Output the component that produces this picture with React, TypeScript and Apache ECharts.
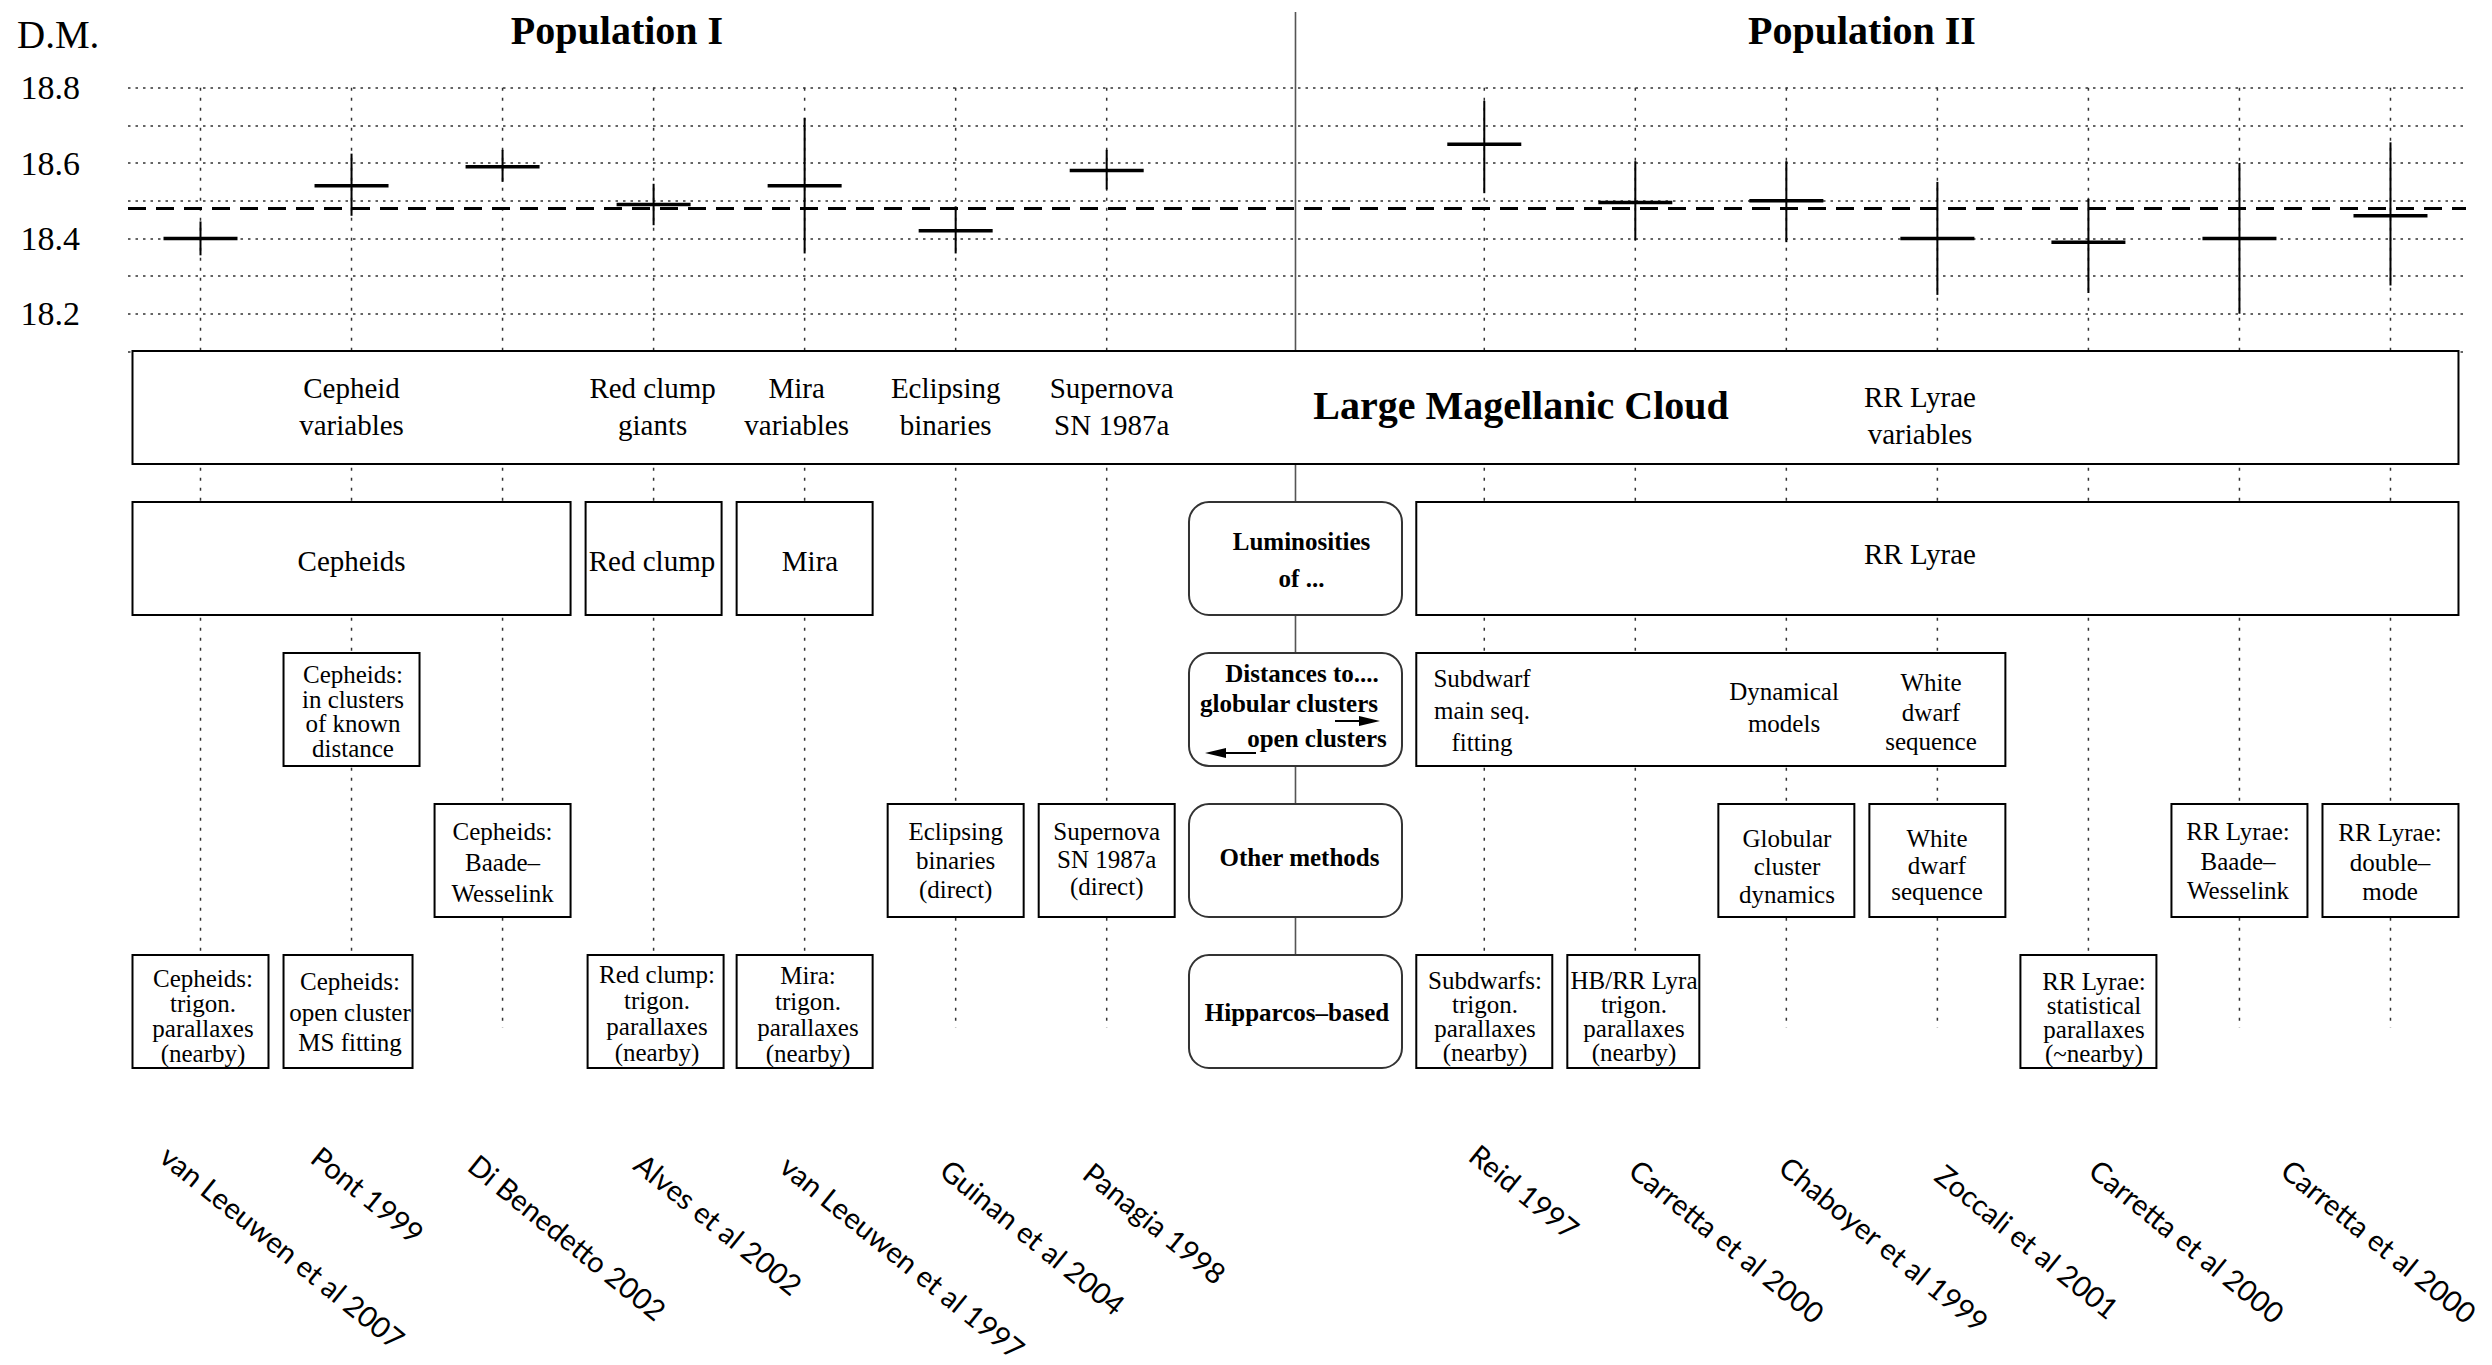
import React, { useEffect, useRef } from "react";
import * as echarts from "echarts";

// ---------------- DATA ----------------
const studies = [
  "van Leeuwen et al 2007", "Pont 1999", "Di Benedetto 2002", "Alves et al 2002",
  "van Leeuwen et al 1997", "Guinan et al 2004", "Panagia 1998",
  "Reid 1997", "Carretta et al 2000", "Chaboyer et al 1999", "Zoccali et al 2001",
  "Carretta et al 2000", "Carretta et al 2000",
];
// column index of every measurement (Population I: 0..6, Population II: 8.5..14.5)
const columnIndex = [0, 1, 2, 3, 4, 5, 6, 8.5, 9.5, 10.5, 11.5, 12.5, 13.5, 14.5];
const dmValues = [18.40, 18.54, 18.59, 18.49, 18.54, 18.42, 18.58, 18.65, 18.495, 18.50, 18.40, 18.39, 18.40, 18.46];
const dmLow = [18.355, 18.46, 18.55, 18.435, 18.36, 18.36, 18.53, 18.52, 18.395, 18.39, 18.25, 18.255, 18.20, 18.275];
const dmHigh = [18.445, 18.625, 18.635, 18.545, 18.72, 18.485, 18.635, 18.765, 18.605, 18.605, 18.55, 18.505, 18.60, 18.655];
const meanDM = 18.485;
const yMin = 18.1;
const yMax = 18.8;
const yStep = 0.1;

// ---------------- LAYOUT ----------------
const W = 2492;
const H = 1365;
const GRID_LEFT = 128;
const GRID_TOP = 87.7;
const GRID_W = 2338;
const GRID_H = 263.7;
const X_MIN = -0.48;
const X_MAX = 15;
const SEP = 7.25;
const ROW_TOP = [351, 502, 653, 804, 955];
const ROW_H = 113;
const HALF = 68;
const colX = (i: number) => GRID_LEFT + ((i - X_MIN) / (X_MAX - X_MIN)) * GRID_W;
// anchor (top-left before rotation) of each rotated reference label
const labelAnchors: [number, number][] = [
  [174, 1140], [325, 1141], [482, 1149], [648, 1148], [794, 1150], [954, 1154], [1097, 1157],
  [1483, 1139], [1643, 1154], [1793, 1151], [1949, 1159], [2103, 1154], [2295, 1154],
];

const SERIF = "Liberation Serif";

function rectBox(x1: number, x2: number, row: number) {
  return {
    type: "rect", z: 10,
    shape: { x: x1, y: ROW_TOP[row], width: x2 - x1, height: ROW_H },
    style: { fill: "#fff", stroke: "#000", lineWidth: 2 },
  };
}
function colBox(a: number, b: number, row: number, dl = 0, dr = 0) {
  return rectBox(colX(a) - HALF + dl, colX(b) + HALF + dr, row);
}
function roundBox(row: number) {
  const cx = colX(SEP);
  return {
    type: "rect", z: 10,
    shape: { x: cx - 106.5, y: ROW_TOP[row], width: 213, height: ROW_H, r: 20 },
    style: { fill: "#fff", stroke: "#333", lineWidth: 2 },
  };
}
function txt(text: string, x: number, y: number, size: number, lh: number, bold = false, align = "center") {
  return {
    type: "text", z: 12, x, y,
    style: {
      text, fill: "#000", fontFamily: SERIF, fontSize: size,
      fontWeight: bold ? "bold" : "normal", align, verticalAlign: "middle", lineHeight: lh,
    },
  };
}

function buildGraphic() {
  const g: any[] = [];
  // dotted column lines
  columnIndex.forEach((c) => {
    g.push({
      type: "line", z: 1,
      shape: { x1: colX(c), y1: GRID_TOP, x2: colX(c), y2: 1028 },
      style: { stroke: "#333", lineWidth: 1.5, lineDash: [3, 7] },
    });
  });
  // separator
  g.push({
    type: "line", z: 3,
    shape: { x1: colX(SEP), y1: 12, x2: colX(SEP), y2: 1011 },
    style: { stroke: "#555", lineWidth: 1.6 },
  });
  // titles
  g.push(txt("D.M.", 17, 34, 39, 40, false, "left"));
  g.push(txt("Population I", 617, 30, 40, 44, true));
  g.push(txt("Population II", 1862, 30, 40, 44, true));

  // Row 0: LMC
  g.push(colBox(0, 14.5, 0));
  g.push(txt("Cepheid\nvariables", colX(1), 406, 29, 37));
  g.push(txt("Red clump\ngiants", colX(3) - 1, 406, 29, 37));
  g.push(txt("Mira\nvariables", colX(4) - 8, 406, 29, 37));
  g.push(txt("Eclipsing\nbinaries", colX(5) - 10, 406, 29, 37));
  g.push(txt("Supernova\nSN 1987a", colX(6) + 5, 406, 29, 37));
  g.push(txt("Large Magellanic Cloud", 1521, 405, 40, 44, true));
  g.push(txt("RR Lyrae\nvariables", 1920, 415.5, 29, 37));

  // Row 1
  g.push(colBox(0, 2, 1));
  g.push(colBox(3, 3, 1));
  g.push(colBox(4, 4, 1));
  g.push(colBox(8.5, 14.5, 1));
  g.push(roundBox(1));
  g.push(txt("Cepheids", colX(1), 561, 29, 37));
  g.push(txt("Red clump", 652, 561, 29, 37));
  g.push(txt("Mira", 810, 561, 29, 37));
  g.push(txt("RR Lyrae", 1920, 554, 29, 37));
  g.push(txt("Luminosities\nof ...", 1301.5, 559.5, 25, 37, true));

  // Row 2
  g.push(colBox(1, 1, 2));
  g.push(roundBox(2));
  g.push(colBox(8.5, 11.5, 2));
  g.push(txt("Cepheids:\nin clusters\nof known\ndistance", 353, 711.5, 25, 24.5));
  g.push(txt("Distances to....", 1302, 673, 25, 30, true));
  g.push(txt("globular clusters", 1289, 703, 25, 30, true));
  g.push(txt("open clusters", 1317, 738, 25, 30, true));
  g.push({ type: "line", z: 12, shape: { x1: 1335, y1: 721, x2: 1362, y2: 721 }, style: { stroke: "#000", lineWidth: 2 } });
  g.push({ type: "polygon", z: 12, shape: { points: [[1359, 716], [1380, 721], [1359, 726]] }, style: { fill: "#000" } });
  g.push({ type: "line", z: 12, shape: { x1: 1256, y1: 753, x2: 1223, y2: 753 }, style: { stroke: "#000", lineWidth: 2 } });
  g.push({ type: "polygon", z: 12, shape: { points: [[1226, 748], [1205, 753], [1226, 758]] }, style: { fill: "#000" } });
  g.push(txt("Subdwarf\nmain seq.\nfitting", 1482, 710, 25, 32));
  g.push(txt("Dynamical\nmodels", 1784, 707, 25, 32));
  g.push(txt("White\ndwarf\nsequence", 1931, 712, 25, 29.5));

  // Row 3
  g.push(colBox(2, 2, 3));
  g.push(colBox(5, 5, 3));
  g.push(colBox(6, 6, 3));
  g.push(roundBox(3));
  g.push(colBox(10.5, 10.5, 3));
  g.push(colBox(11.5, 11.5, 3));
  g.push(colBox(13.5, 13.5, 3));
  g.push(colBox(14.5, 14.5, 3));
  g.push(txt("Cepheids:\nBaade\u2013\nWesselink", colX(2), 862, 25, 31));
  g.push(txt("Eclipsing\nbinaries\n(direct)", colX(5), 860, 25, 29));
  g.push(txt("Supernova\nSN 1987a\n(direct)", colX(6), 859, 25, 27.5));
  g.push(txt("Other methods", 1299.5, 857, 25, 30, true));
  g.push(txt("Globular\ncluster\ndynamics", 1787, 866, 25, 28));
  g.push(txt("White\ndwarf\nsequence", 1937, 865, 25, 26.5));
  g.push(txt("RR Lyrae:\nBaade\u2013\nWesselink", 2238, 861, 25, 29.5));
  g.push(txt("RR Lyrae:\ndouble\u2013\nmode", 2390, 862, 25, 29.5));

  // Row 4
  g.push(colBox(0, 0, 4));
  g.push(colBox(1, 1, 4, 0, -7));
  g.push(colBox(3, 3, 4, 2, 2));
  g.push(colBox(4, 4, 4));
  g.push(roundBox(4));
  g.push(colBox(8.5, 8.5, 4));
  g.push(colBox(9.5, 9.5, 4, 0, -4));
  g.push(colBox(12.5, 12.5, 4));
  g.push(txt("Cepheids:\ntrigon.\nparallaxes\n(nearby)", 203, 1015.5, 25, 25));
  g.push(txt("Cepheids:\nopen cluster\nMS fitting", 350, 1012, 25, 30.5));
  g.push(txt("Red clump:\ntrigon.\nparallaxes\n(nearby)", 657, 1013, 25, 26));
  g.push(txt("Mira:\ntrigon.\nparallaxes\n(nearby)", 808, 1014, 25, 26));
  g.push(txt("Hipparcos\u2013based", 1297, 1012, 25, 30, true));
  g.push(txt("Subdwarfs:\ntrigon.\nparallaxes\n(nearby)", 1485, 1016, 25, 24));
  g.push(txt("HB/RR Lyra\ntrigon.\nparallaxes\n(nearby)", 1634, 1016, 25, 24));
  g.push(txt("RR Lyrae:\nstatistical\nparallaxes\n(~nearby)", 2094, 1017, 25, 24));

  // rotated reference labels
  studies.forEach((s, i) => {
    const [ax, ay] = labelAnchors[i];
    g.push({
      type: "text", z: 12, x: ax, y: ay, rotation: (-39 * Math.PI) / 180,
      style: { text: s, fill: "#000", fontFamily: "Lato", fontSize: 29, align: "left", verticalAlign: "top" },
    });
  });
  return g;
}

export default function App() {
  const ref = useRef<HTMLDivElement>(null);
  useEffect(() => {
    if (!ref.current) return;
    const chart = echarts.init(ref.current, undefined, { renderer: "svg" });
    const data = columnIndex.map((x, i) => [x, dmValues[i], dmLow[i], dmHigh[i]]);
    chart.setOption({
      animation: false,
      backgroundColor: "#fff",
      grid: { left: GRID_LEFT, top: GRID_TOP, width: GRID_W, height: GRID_H, containLabel: false },
      xAxis: {
        type: "value", min: X_MIN, max: X_MAX,
        axisLine: { show: false }, axisTick: { show: false }, axisLabel: { show: false }, splitLine: { show: false },
      },
      yAxis: {
        type: "value", min: yMin, max: yMax, interval: yStep,
        axisLine: { show: false }, axisTick: { show: false },
        axisLabel: {
          margin: 48, fontSize: 34, fontFamily: SERIF, color: "#000", padding: [8, 0, 0, 0],
          formatter: (v: number) => (Math.round(v * 10) % 2 === 0 ? v.toFixed(1) : ""),
        },
        splitLine: { show: true, lineStyle: { color: "#333", width: 1.5, type: [2.5, 5] } },
      },
      graphic: buildGraphic(),
      series: [
        {
          type: "custom",
          z: 5,
          data,
          encode: { x: 0, y: [1, 2, 3] },
          renderItem: (params: any, api: any) => {
            const x = api.value(0);
            const pc = api.coord([x, api.value(1)]);
            const pl = api.coord([x, api.value(2)]);
            const ph = api.coord([x, api.value(3)]);
            return {
              type: "group",
              children: [
                { type: "line", shape: { x1: pc[0], y1: ph[1], x2: pc[0], y2: pl[1] }, style: { stroke: "#000", lineWidth: 2 } },
                { type: "line", shape: { x1: pc[0] - 37, y1: pc[1], x2: pc[0] + 37, y2: pc[1] }, style: { stroke: "#000", lineWidth: 3.5 } },
              ],
            };
          },
          markLine: {
            silent: true, symbol: ["none", "none"], label: { show: false },
            lineStyle: { type: [18, 10], width: 3, color: "#000" },
            data: [{ yAxis: meanDM }],
          },
        },
      ],
    });
    return () => chart.dispose();
  }, []);
  return <div ref={ref} style={{ position: "absolute", left: 0, top: 0, width: W, height: H }} />;
}
